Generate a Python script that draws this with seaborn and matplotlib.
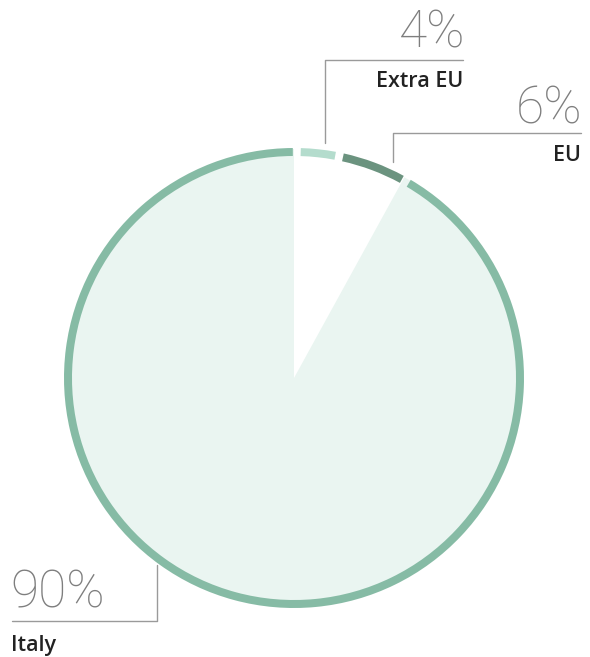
import matplotlib
matplotlib.use("Agg")
import matplotlib.pyplot as plt
import seaborn as sns

sns.set_theme(style="white")
plt.rcParams['font.family'] = ['Open Sans', 'DejaVu Sans']

# Data
categories = ["Extra EU", "EU", "Italy"]
values = [3.0, 5.0, 92.0]
pct_labels = ["4%", "6%", "90%"]
ring_colors = ["#b4dccd", "#6b937f", "#86bba5"]
fill_colors = ["none", "none", "#eaf5f1"]

W, H = 590, 657
fig = plt.figure(figsize=(W / 100, H / 100), dpi=100)
ax = fig.add_axes([0, 0, 1, 1])

cx, cy, R = 294, H - 378, 230
ring_w = 8

# fill
ax.pie(values, radius=R - 1, center=(cx, cy), startangle=90, counterclock=False,
       colors=fill_colors, wedgeprops=dict(linewidth=0, edgecolor="none"))
# ring
wedges, _ = ax.pie(values, radius=R, center=(cx, cy), startangle=90, counterclock=False,
                   colors=ring_colors, wedgeprops=dict(width=ring_w, linewidth=0, edgecolor="none"))
for w in wedges:
    w.set_theta2(w.theta2 - 1.7)
    w.set_theta1(w.theta1 + 0.3)

ax.set_xlim(0, W)
ax.set_ylim(0, H)
ax.set_aspect("equal")
ax.axis("off")

line_c = "#9a9a9a"
pct_c = "#7e7e7e"
lab_c = "#222222"
pct_kw = dict(fontsize=37, fontweight="light", color=pct_c,
              family=["Roboto", "Open Sans", "DejaVu Sans"])
lab_kw = dict(fontsize=15.5, fontweight="semibold", color=lab_c)

def Y(p):
    return H - p

# Extra EU
ax.plot([325, 325, 463], [Y(143), Y(60), Y(60)], color=line_c, lw=1)
ax.text(465, Y(48), pct_labels[0], ha="right", va="baseline", **pct_kw)
ax.text(463, Y(87), categories[0], ha="right", va="baseline", **lab_kw)
# EU
ax.plot([393, 393, 581], [Y(162), Y(133), Y(133)], color=line_c, lw=1)
ax.text(582, Y(123), pct_labels[1], ha="right", va="baseline", **pct_kw)
ax.text(581, Y(161), categories[1], ha="right", va="baseline", **lab_kw)
# Italy
ax.plot([12, 157, 157], [Y(621), Y(621), Y(565)], color=line_c, lw=1)
ax.text(10, Y(608), pct_labels[2], ha="left", va="baseline", **pct_kw)
ax.text(11, Y(651), categories[2], ha="left", va="baseline", **lab_kw)

fig.savefig("out.png", dpi=100)
